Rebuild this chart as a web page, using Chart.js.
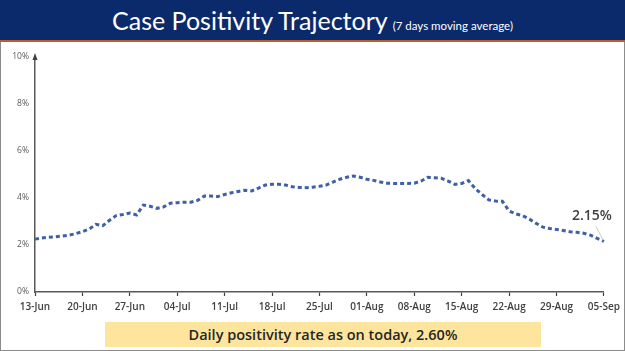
<!DOCTYPE html>
<html>
<head>
<meta charset="utf-8">
<script src="https://cdn.jsdelivr.net/npm/chart.js@4.4.1/dist/chart.umd.min.js"></script>
<style>
  html,body{margin:0;padding:0;background:#fff;}
  #wrap{position:relative;width:625px;height:351px;overflow:hidden;background:#fff;}
  #frame{position:absolute;left:0;top:0;width:623px;height:349px;border:1px solid #8c8c8c;}
  #banner{position:absolute;left:0;top:0;width:625px;height:40px;background:#0b2a6b;border-bottom:2px solid #b5602c;
    color:#fff;font-family:Lato,"Open Sans",sans-serif;text-align:center;line-height:40px;white-space:nowrap;}
  #banner .main{font-size:25px;}
  #banner .sub{font-size:11.5px;margin-left:5px;}
  #chart{position:absolute;left:0;top:0;}
  #note{position:absolute;left:105px;top:322px;width:436px;height:25px;background:#fde59e;
    font-family:"Open Sans",Lato,sans-serif;font-weight:600;font-size:14.5px;color:#262626;text-align:center;line-height:25px;}
</style>
</head>
<body>
<div id="wrap">
  <div id="frame"></div>
  <canvas id="chart" width="625" height="351"></canvas>
  <div id="banner"><span class="main">Case Positivity Trajectory</span><span class="sub">(7 days moving average)</span></div>
  <div id="note">Daily positivity rate as on today, 2.60%</div>
</div>
<script>
// Dates: 13-Jun to 05-Sep (85 days)
const dates = [
 "13-Jun","14-Jun","15-Jun","16-Jun","17-Jun","18-Jun","19-Jun","20-Jun","21-Jun","22-Jun","23-Jun","24-Jun","25-Jun","26-Jun","27-Jun","28-Jun","29-Jun","30-Jun",
 "01-Jul","02-Jul","03-Jul","04-Jul","05-Jul","06-Jul","07-Jul","08-Jul","09-Jul","10-Jul","11-Jul","12-Jul","13-Jul","14-Jul","15-Jul","16-Jul","17-Jul","18-Jul","19-Jul","20-Jul","21-Jul","22-Jul","23-Jul","24-Jul","25-Jul","26-Jul","27-Jul","28-Jul","29-Jul","30-Jul","31-Jul",
 "01-Aug","02-Aug","03-Aug","04-Aug","05-Aug","06-Aug","07-Aug","08-Aug","09-Aug","10-Aug","11-Aug","12-Aug","13-Aug","14-Aug","15-Aug","16-Aug","17-Aug","18-Aug","19-Aug","20-Aug","21-Aug","22-Aug","23-Aug","24-Aug","25-Aug","26-Aug","27-Aug","28-Aug","29-Aug","30-Aug","31-Aug",
 "01-Sep","02-Sep","03-Sep","04-Sep","05-Sep"
];
// 7-day moving average positivity (%)
const positivity = [
 2.25,2.30,2.33,2.35,2.38,2.42,2.48,2.57,2.68,2.88,2.82,3.05,3.25,3.30,3.36,3.28,3.70,3.65,3.56,3.62,
 3.78,3.80,3.82,3.82,3.90,4.08,4.08,4.06,4.15,4.22,4.28,4.33,4.30,4.42,4.55,4.58,4.58,4.55,4.48,4.45,
 4.44,4.46,4.50,4.55,4.68,4.80,4.88,4.94,4.88,4.80,4.75,4.68,4.63,4.62,4.62,4.62,4.63,4.72,4.88,4.86,
 4.84,4.72,4.58,4.62,4.74,4.40,4.15,3.92,3.87,3.86,3.45,3.32,3.25,3.10,2.92,2.76,2.70,2.66,2.62,2.56,
 2.54,2.50,2.42,2.28,2.15
];
const tickLabels = ["13-Jun","20-Jun","27-Jun","04-Jul","11-Jul","18-Jul","25-Jul","01-Aug","08-Aug","15-Aug","22-Aug","29-Aug","05-Sep"];
const yTicks = [0,2,4,6,8,10];
const lastLabel = "2.15%";

const extras = {
  id:'extras',
  afterDatasetsDraw(chart){
    const ctx = chart.ctx;
    const ys = chart.scales.y;
    const xs = chart.scales.x;
    ctx.save();
    ctx.fillStyle = '#404040';
    const ax = xs.left;
    ctx.beginPath();
    ctx.moveTo(ax, ys.top-4);
    ctx.lineTo(ax-2.5, ys.top+3);
    ctx.lineTo(ax+2.5, ys.top+3);
    ctx.closePath();
    ctx.fill();
    const meta = chart.getDatasetMeta(0);
    const pt = meta.data[meta.data.length-1];
    ctx.strokeStyle = '#c8c8c8';
    ctx.lineWidth = 1;
    ctx.beginPath();
    ctx.moveTo(pt.x-8, pt.y-15);
    ctx.lineTo(pt.x-1, pt.y-2);
    ctx.stroke();
    ctx.fillStyle = '#404040';
    ctx.font = '600 14px "Open Sans", Lato, sans-serif';
    ctx.textAlign = 'center';
    ctx.textBaseline = 'middle';
    ctx.fillText(lastLabel, pt.x-12, pt.y-25);
    ctx.restore();
  }
};

new Chart(document.getElementById('chart'), {
  type:'line',
  data:{
    labels: dates,
    datasets:[{
      data: positivity,
      borderColor:'#3f5fa6',
      borderWidth:3,
      borderDash:[4,3],
      pointRadius:0,
      tension:0,
      fill:false
    }]
  },
  options:{
    responsive:false,
    animation:false,
    devicePixelRatio:1,
    layout:{padding:{top:57,left:0,right:19,bottom:35}},
    plugins:{legend:{display:false},tooltip:{enabled:false}},
    scales:{
      x:{
        type:'category',
        offset:false,
        border:{display:true,color:'#595959',width:1.5},
        grid:{display:true,drawOnChartArea:false,drawTicks:true,tickLength:4,color:'#404040',tickWidth:1.2},
        ticks:{
          autoSkip:false,maxRotation:0,minRotation:0,padding:5,
          color:'#404040',
          font:{family:'"Open Sans", Lato, sans-serif',size:10,weight:'600'},
          callback:function(v,i){ const l=this.getLabelForValue(v); return tickLabels.includes(l)?l:null; }
        },
        afterFit(s){ s.height = 24; }
      },
      y:{
        min:0,max:10,
        border:{display:true,color:'#595959',width:1.5},
        grid:{display:false,drawTicks:false},
        afterBuildTicks(s){ s.ticks = yTicks.map(v=>({value:v})); },
        ticks:{
          padding:6,color:'#595959',
          font:{family:'"Open Sans", Lato, sans-serif',size:8.5},
          callback:v=>v+'%'
        },
        afterFit(s){ s.width = 35; }
      }
    }
  },
  plugins:[extras]
});
</script>
</body>
</html>
